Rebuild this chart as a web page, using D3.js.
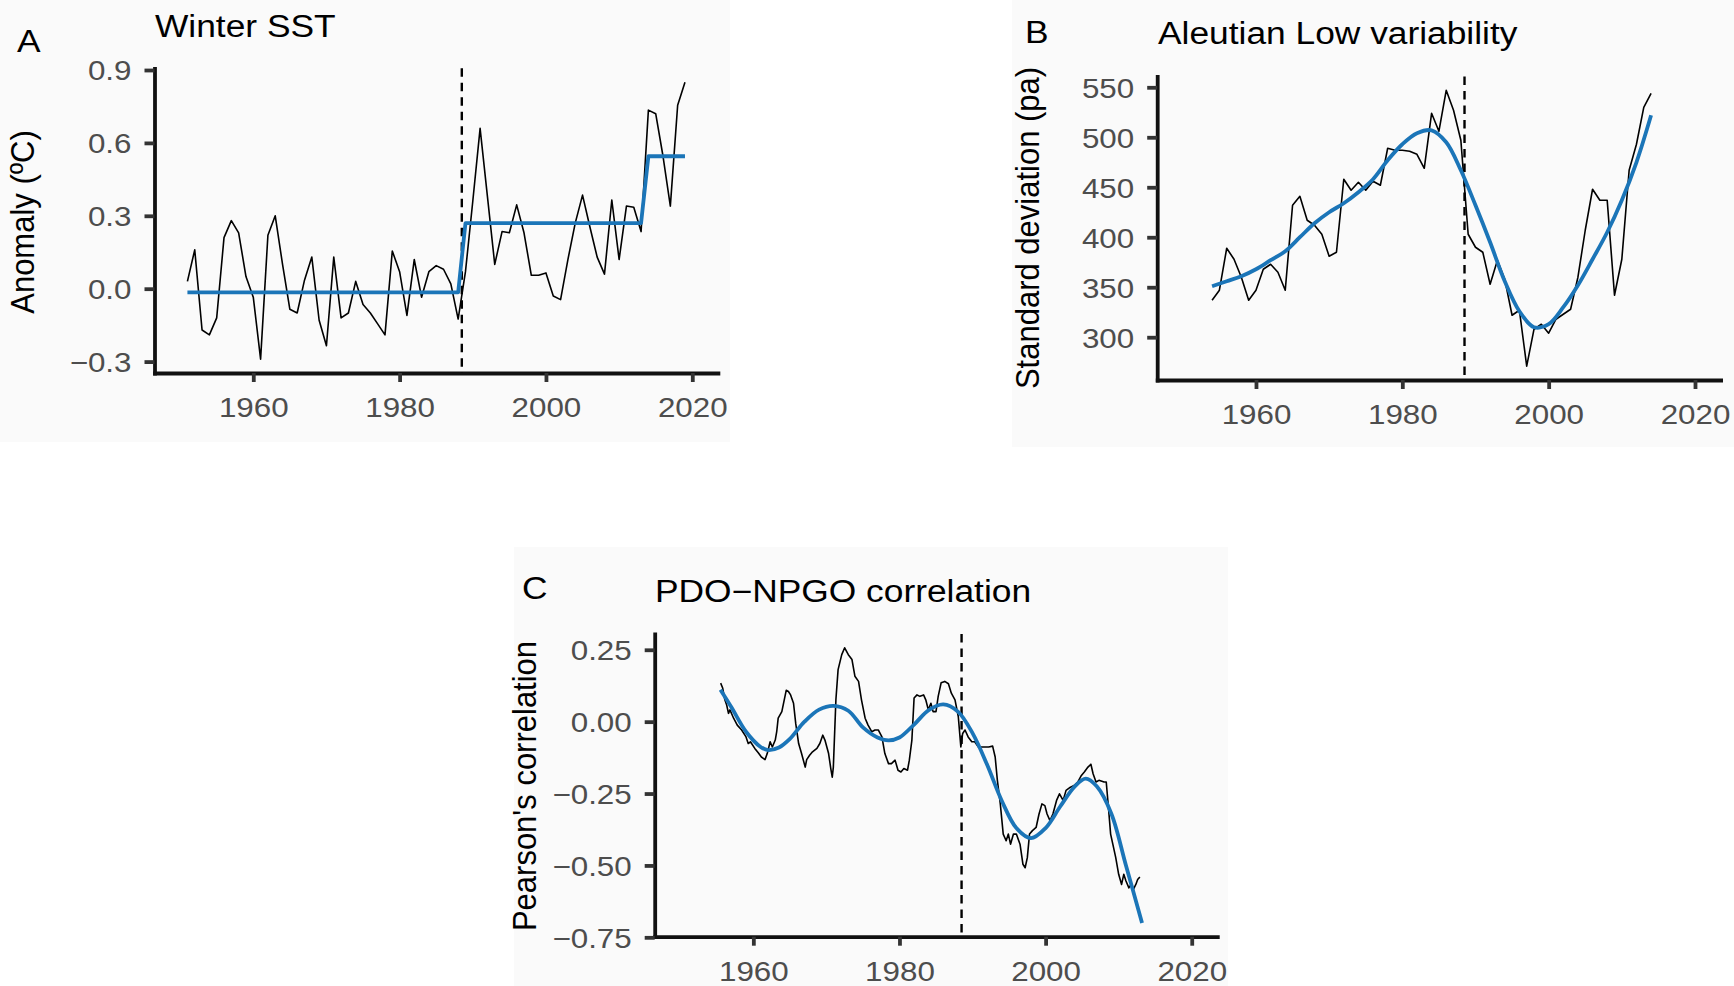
<!DOCTYPE html>
<html><head><meta charset="utf-8">
<script src="https://cdn.jsdelivr.net/npm/d3@7"></script>
<style>
body{margin:0;background:#fff;}
svg{display:block;}
text{font-family:"Liberation Sans",Arial,Helvetica,sans-serif;}
</style>
</head><body>
<svg id="chart" width="1734" height="986"></svg>
<script>
// ---------------- DATA ----------------
const sstStartYear = 1951;
const sstAnomaly = [
  0.03, 0.16, -0.17, -0.19, -0.12, 0.21, 0.28, 0.23, 0.05, -0.035,
  -0.29, 0.22, 0.30, 0.10, -0.085, -0.10, 0.035, 0.13, -0.13, -0.235,
  0.13, -0.12, -0.10, 0.03, -0.065, -0.10, -0.145, -0.19, 0.155, 0.07,
  -0.11, 0.12, -0.035, 0.07, 0.095, 0.08, 0.02, -0.125, 0.07, 0.36,
  0.66, 0.38, 0.10, 0.235, 0.23, 0.345, 0.23, 0.055, 0.055, 0.065,
  -0.03, -0.045, 0.12, 0.27, 0.385, 0.255, 0.13, 0.06, 0.365, 0.12,
  0.34, 0.335, 0.235, 0.735, 0.72, 0.545, 0.34, 0.755, 0.85
];
const sstRegimeStart = [1951, 1989, 2014];
const sstRegimeEnd   = [1988, 2013, 2019];
const sstRegimeMean  = [-0.015, 0.27, 0.545];

const alStartYear = 1954;
const alStdDev = [
  337, 347, 389, 378, 360, 337, 347, 368, 373, 365,
  347, 432, 441, 417, 412, 403, 381, 385, 458, 447,
  455, 447, 456, 452, 489, 487, 487, 486, 483, 469,
  524, 506, 547, 527, 497, 403, 390, 385, 353, 377,
  358, 322, 327, 271, 308, 313, 304, 318, 323, 328,
  360, 407, 448, 437, 437, 342, 378, 467, 493, 530, 544
];
const alSmoothYear = [1954,1956,1958,1960,1962,1964,1966,1968,1970,1972,1974,1976,1978,1980,1982,1984,1986,1988,1990,1992,1994,1996,1998,2000,2002,2004,2006,2008,2010,2012,2014];
const alSmoothValue = [351,356,361,368,377,386,400,414,425,434,445,458,477,493,504,507,495,467,432,395,356,326,310,313,330,352,378,405,437,475,522];

const pdoTime = [
  1955.53,1955.8,1956.1,1956.35,1956.6,1956.8,1957.3,1957.8,1958.4,1959.0,
  1959.3,1959.6,1960.2,1960.7,1961.1,1961.6,1961.9,1962.3,1962.6,1963.0,
  1963.2,1963.4,1963.9,1964.5,1964.8,1965.1,1965.5,1965.8,1966.2,1966.6,
  1967.1,1967.3,1967.7,1968.1,1968.7,1969.1,1969.5,1969.8,1970.3,1970.6,
  1970.8,1970.95,1971.3,1971.6,1972.1,1972.5,1973.0,1973.5,1973.9,1974.4,
  1974.8,1975.3,1975.7,1976.2,1976.65,1977.1,1977.6,1978.0,1978.5,1978.9,
  1979.4,1979.8,1980.2,1980.6,1981.1,1981.35,1981.7,1982.0,1982.4,1982.8,
  1983.3,1983.6,1983.95,1984.3,1984.6,1985.0,1985.3,1985.7,1986.2,1986.7,
  1987.1,1987.6,1988.05,1988.4,1988.65,1988.97,1989.4,1989.9,1990.3,1990.8,
  1991.5,1992.2,1992.75,1993.1,1993.4,1993.8,1994.2,1994.6,1994.9,1995.2,
  1995.6,1996.0,1996.5,1996.9,1997.2,1997.5,1997.8,1998.2,1998.7,1999.1,
  1999.5,1999.9,2000.2,2000.6,2001.0,2001.5,2001.9,2002.4,2002.8,2003.4,
  2003.9,2004.4,2004.9,2005.3,2005.8,2006.2,2006.5,2006.9,2007.3,2008.0,
  2008.3,2008.6,2008.9,2009.2,2009.6,2010.0,2010.4,2010.7,2011.0,2011.4,
  2011.7,2012.0,2012.35,2012.6,2012.9
];
const pdoCorr = [
  0.134,0.117,0.076,0.058,0.029,0.041,0.012,-0.012,-0.029,-0.053,
  -0.076,-0.07,-0.093,-0.109,-0.123,-0.132,-0.111,-0.07,-0.088,-0.064,
  -0.035,0.012,0.035,0.109,0.105,0.093,0.064,-0.006,-0.076,-0.111,
  -0.158,-0.132,-0.117,-0.105,-0.093,-0.076,-0.047,-0.064,-0.111,-0.163,
  -0.193,-0.158,0.076,0.181,0.233,0.257,0.233,0.216,0.158,0.14,
  0.076,0.012,-0.012,-0.035,-0.029,-0.029,-0.053,-0.111,-0.146,-0.146,
  -0.134,-0.169,-0.175,-0.163,-0.169,-0.134,-0.064,0.082,0.093,0.088,
  0.093,0.076,0.041,0.064,0.035,0.035,0.088,0.135,0.14,0.132,
  0.099,0.076,0.018,-0.088,-0.041,-0.029,-0.053,-0.07,-0.07,-0.088,
  -0.088,-0.088,-0.085,-0.123,-0.204,-0.286,-0.391,-0.414,-0.391,-0.426,
  -0.391,-0.391,-0.426,-0.496,-0.508,-0.473,-0.391,-0.379,-0.368,-0.321,
  -0.286,-0.292,-0.321,-0.344,-0.321,-0.274,-0.251,-0.274,-0.239,-0.228,
  -0.222,-0.21,-0.187,-0.175,-0.158,-0.148,-0.181,-0.21,-0.204,-0.21,
  -0.21,-0.298,-0.391,-0.426,-0.473,-0.531,-0.566,-0.531,-0.554,-0.578,
  -0.566,-0.584,-0.566,-0.549,-0.54
];
const pdoSmoothTime = [1955.5,1957,1959,1961,1962,1963.5,1965,1967,1969,1971,1973,1975,1977,1978.5,1980,1982,1984,1986,1988,1990,1992,1994,1996,1998,2000,2002,2004,2005.5,2007,2009,2011,2013.2];
const pdoSmoothValue = [0.111,0.05,-0.035,-0.088,-0.099,-0.09,-0.06,0.0,0.042,0.055,0.038,-0.02,-0.055,-0.065,-0.055,-0.01,0.04,0.06,0.035,-0.04,-0.15,-0.275,-0.37,-0.405,-0.37,-0.295,-0.225,-0.198,-0.225,-0.32,-0.5,-0.70];

const regimeShiftYear = 1988.5;
const xLimits = [1950, 2020];
const xTickValues = [1960, 1980, 2000, 2020];
const sstTickValues = [-0.3, 0, 0.3, 0.6, 0.9];
const alTickValues = [300, 350, 400, 450, 500, 550];
const pdoTickValues = [-0.75, -0.5, -0.25, 0, 0.25];

// ---------------- STYLE ----------------
const SX = 1.14;            // horizontal stretch of the reference's text
const BLUE = "#1b75b8";
const TICK_GREY = "#4d4d4d";
const svg = d3.select("#chart");

function expand(ext) { const d = ext[1] - ext[0]; return [ext[0] - 0.05 * d, ext[1] + 0.05 * d]; }

function hText(g, x, y, str, size, color, anchor) {
  g.append("text")
    .attr("transform", `translate(${x},${y}) scale(${SX},1)`)
    .attr("text-anchor", anchor || "start")
    .attr("font-size", size)
    .attr("fill", color || "#000")
    .text(str);
}

function panel(cfg) {
  const g = svg.append("g");
  g.append("rect").attr("x", cfg.bg[0]).attr("y", cfg.bg[1])
    .attr("width", cfg.bg[2]).attr("height", cfg.bg[3]).attr("fill", "#fafafa");

  const x = d3.scaleLinear().domain(expand(xLimits)).range([cfg.left, cfg.right]);
  const y = d3.scaleLinear().domain(expand(cfg.yExtent)).range([cfg.bottom, cfg.top]);

  const xa = g.append("g").attr("transform", `translate(0,${cfg.bottom})`)
    .call(d3.axisBottom(x).tickValues(xTickValues).tickSize(9).tickSizeOuter(0).tickFormat(d3.format("d")));
  const ya = g.append("g").attr("transform", `translate(${cfg.left},0)`)
    .call(d3.axisLeft(y).tickValues(cfg.yTicks).tickSize(10).tickSizeOuter(0).tickFormat(cfg.fmt));
  [xa, ya].forEach(a => {
    a.select(".domain").attr("stroke", "#111").attr("stroke-width", 3.8).attr("stroke-linecap", "square");
    a.selectAll(".tick line").attr("stroke", "#333").attr("stroke-width", 3.8);
    a.selectAll(".tick text").attr("font-size", 27.5).attr("fill", TICK_GREY)
      .attr("font-family", '"Liberation Sans",Arial,sans-serif');
  });
  xa.selectAll(".tick text").attr("y", 0).attr("dy", 0)
    .attr("transform", `translate(0,44) scale(${SX},1)`);
  ya.selectAll(".tick text").attr("x", 0).attr("dy", "0.36em")
    .attr("transform", `translate(-23,0) scale(${SX},1)`);

  g.append("line").attr("x1", x(regimeShiftYear)).attr("x2", x(regimeShiftYear))
    .attr("y1", cfg.top).attr("y2", cfg.bottom)
    .attr("stroke", "#000").attr("stroke-width", 2.4).attr("stroke-dasharray", "8.5,6");

  g.append("path").datum(cfg.raw)
    .attr("d", d3.line().x(d => x(d[0])).y(d => y(d[1])))
    .attr("fill", "none").attr("stroke", "#000").attr("stroke-width", 1.6).attr("stroke-linejoin", "round");
  g.append("path").datum(cfg.fit)
    .attr("d", d3.line().curve(cfg.curve).x(d => x(d[0])).y(d => y(d[1])))
    .attr("fill", "none").attr("stroke", BLUE).attr("stroke-width", 3.8).attr("stroke-linejoin", "round");

  hText(g, cfg.letter[0], cfg.letter[1], cfg.letter[2], 31);
  hText(g, cfg.title[0], cfg.title[1], cfg.title[2], 31);
  g.append("text")
    .attr("transform", `translate(${cfg.ylab[0]},${cfg.ylab[1]}) scale(1.1,1) rotate(-90)`)
    .attr("text-anchor", "middle").attr("font-size", 31).attr("fill", "#000")
    .text(cfg.ylab[2]);
}

const sstRaw = sstAnomaly.map((v, i) => [sstStartYear + i, v]);
const sstFit = [];
sstRegimeStart.forEach((s, k) => { for (let yr = s; yr <= sstRegimeEnd[k]; yr++) sstFit.push([yr, sstRegimeMean[k]]); });
const alRaw = alStdDev.map((v, i) => [alStartYear + i, v]);
const alFit = alSmoothYear.map((t, i) => [t, alSmoothValue[i]]);
const pdoRaw = pdoTime.map((t, i) => [t, pdoCorr[i]]);
const pdoFit = pdoSmoothTime.map((t, i) => [t, pdoSmoothValue[i]]);

panel({
  bg: [0, 0, 730, 442],
  left: 154.5, right: 717.9, top: 68.3, bottom: 373,
  yExtent: d3.extent(sstAnomaly.concat(sstRegimeMean)),
  yTicks: sstTickValues, fmt: d3.format(".1f"),
  raw: sstRaw, fit: sstFit, curve: d3.curveLinear,
  letter: [17, 52, "A"], title: [155, 37, "Winter SST"], ylab: [34, 222, "Anomaly (ºC)"]
});
panel({
  bg: [1012, 0, 722, 447],
  left: 1157.2, right: 1720.6, top: 76.5, bottom: 380,
  yExtent: d3.extent(alStdDev.concat(alSmoothValue)),
  yTicks: alTickValues, fmt: d3.format("d"),
  raw: alRaw, fit: alFit, curve: d3.curveCatmullRom,
  letter: [1025, 43, "B"], title: [1158, 44, "Aleutian Low variability"], ylab: [1039, 228, "Standard deviation (pa)"]
});
panel({
  bg: [514, 547, 714, 439],
  left: 654.7, right: 1217.3, top: 634, bottom: 936.7,
  yExtent: d3.extent(pdoCorr.concat(pdoSmoothValue)),
  yTicks: pdoTickValues, fmt: d3.format(".2f"),
  raw: pdoRaw, fit: pdoFit, curve: d3.curveCatmullRom,
  letter: [522, 599, "C"], title: [655, 602, "PDO\u2212NPGO correlation"], ylab: [536, 786, "Pearson's correlation"]
});
</script>
</body></html>
